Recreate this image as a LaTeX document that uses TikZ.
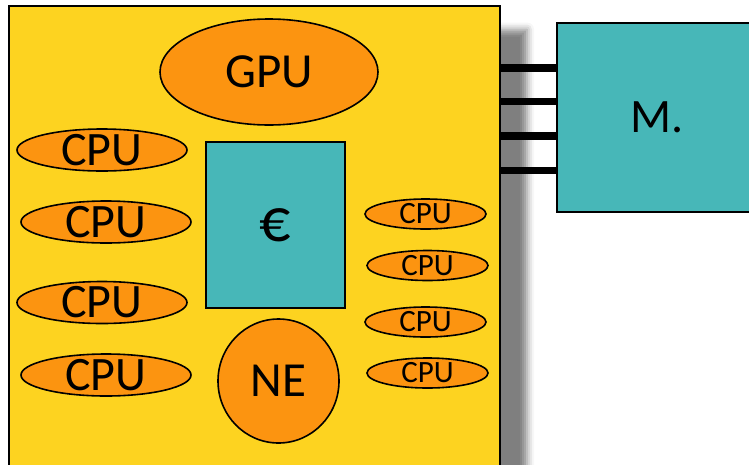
\documentclass[tikz,border=0pt]{standalone}
\usepackage{fontspec}
\setmainfont{Carlito}
\usetikzlibrary{positioning,shapes.geometric,shadows.blur}
\definecolor{chipyellow}{HTML}{FDD320}
\definecolor{unitorange}{HTML}{FC9410}
\definecolor{memteal}{HTML}{47B7B8}

\begin{document}
\begin{tikzpicture}[x=1pt, y=-1pt,
    unit/.style={ellipse, draw, line width=1.6pt, fill=unitorange, inner sep=0pt},
    bigcpu/.style={unit, minimum width=170pt, minimum height=42pt,
        label={[font=\fontsize{48}{50}\selectfont]center:CPU}},
    smallcpu/.style={unit, minimum width=121pt, minimum height=30pt,
        label={[font=\fontsize{31}{33}\selectfont]center:CPU}},
    tealbox/.style={rectangle, draw, line width=1.6pt, fill=memteal, inner sep=0pt},
    bus/.style={line width=7.5pt}]

    \path[use as bounding box, clip] (0,0) rectangle (749,464);

    \node[rectangle, draw, line width=2pt, fill=chipyellow, minimum width=491pt, minimum height=480pt,
        blur shadow={shadow xshift=27pt, shadow yshift=-24pt, shadow blur radius=7pt, shadow opacity=50}]
        (chip) at (254.5,245.5) {};

    \node[unit, minimum width=218pt, minimum height=106pt, font=\fontsize{49}{50}\selectfont] (gpu) at (269,72) {GPU};
    \node[tealbox, minimum width=139pt, minimum height=166pt, font=\fontsize{62}{64}\selectfont] (cache) at (275.5,225) {€};
    \node[unit, minimum width=121pt, minimum height=124pt, font=\fontsize{49}{50}\selectfont] (ne) at (278.5,381) {NE};

    % cores, left column
    \node[bigcpu] (cpuA) at (102,150) {};
    \node[bigcpu] (cpuB) at (106,222) {};
    \node[bigcpu] (cpuC) at (102,302.5) {};
    \node[bigcpu] (cpuD) at (106,375) {};

    % cores, right column
    \node[smallcpu] (cpuE) at (425.5,214) {};
    \node[smallcpu] (cpuF) at (427.5,265.5) {};
    \node[smallcpu] (cpuG) at (425.5,322) {};
    \node[smallcpu] (cpuH) at (427.5,373) {};

    \node[tealbox, minimum width=200pt, minimum height=189pt, font=\fontsize{48}{50}\selectfont] (mem) at (657,117.5) {M.};

    \coordinate (busA) at (500,68);
    \coordinate (busB) at (500,101.5);
    \coordinate (busC) at (500,136);
    \coordinate (busD) at (500,170.5);

    \draw[bus] (busA) -- (busA -| mem.west);
    \draw[bus] (busB) -- (busB -| mem.west);
    \draw[bus] (busC) -- (busC -| mem.west);
    \draw[bus] (busD) -- (busD -| mem.west);
\end{tikzpicture}
\end{document}
